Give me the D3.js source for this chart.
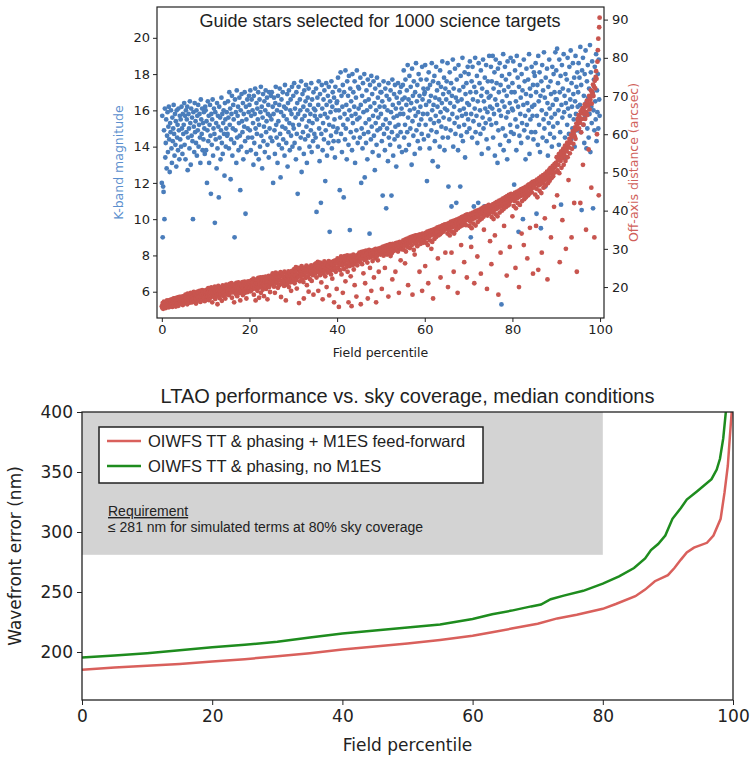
<!DOCTYPE html>
<html>
<head>
<meta charset="utf-8">
<script src="https://cdn.jsdelivr.net/npm/d3@7"></script>
<style>
  body { margin: 0; background: #fff; }
  svg text { font-family: "DejaVu Sans", sans-serif; fill: #222; }
</style>
</head>
<body>
<svg id="chart" width="755" height="757"></svg>
<script>
// ---- top panel: one guide star per science target, sorted by field percentile ----
// K-band magnitude of guide star, in tenths of a magnitude (rows = 5 percentiles)
const kMagTenths = [
  120,157,90,118,115,149,100,161,134,142,155,128,146,159,137,151,162,144,126,153,148,160,139,131,156,143,150,163,147,135,158,141,154,129,160,145,152,138,161,149,133,157,144,155,140,162,150,136,158,147,
  152,164,141,157,133,160,148,155,162,127,145,158,150,139,165,153,130,161,146,156,143,100,159,151,137,164,148,154,142,160,135,157,149,163,140,152,158,145,131,166,155,147,161,138,153,144,159,150,136,162,
  160,138,154,120,149,165,143,157,131,152,163,146,114,158,141,155,166,135,150,161,147,98,159,144,153,128,164,139,157,151,112,162,145,156,133,149,167,142,158,136,153,160,147,124,164,155,140,150,159,146,
  147,165,156,139,170,152,161,122,144,158,168,135,150,163,155,142,90,166,149,159,131,171,145,157,162,138,153,167,146,116,160,140,169,154,148,164,133,158,151,170,143,103,162,155,137,166,150,145,159,168,
  163,149,171,138,157,166,145,160,153,130,168,142,158,172,150,136,164,147,161,155,170,133,152,166,140,159,173,146,162,128,156,169,143,151,165,137,160,171,148,154,167,141,158,163,134,170,150,157,145,168,
  155,170,143,162,120,158,167,149,136,164,173,152,145,160,131,168,154,141,163,172,147,123,159,166,139,151,170,144,157,162,135,174,150,161,142,155,169,129,164,148,171,153,138,160,166,146,158,173,140,152,
  168,150,175,142,161,156,133,170,147,164,114,158,173,152,139,166,160,145,176,126,155,169,148,162,136,171,157,144,165,174,151,131,160,167,146,172,154,140,163,158,149,175,137,166,153,143,170,161,147,157,
  160,145,172,104,155,167,140,163,176,150,132,169,157,109,147,174,161,138,153,166,144,171,158,121,149,175,163,135,156,168,142,173,152,93,165,159,146,176,139,162,170,151,143,167,155,134,173,160,148,164,
  165,150,178,143,160,171,116,156,181,147,168,137,162,174,152,112,170,158,144,182,150,163,133,176,155,168,141,179,160,94,172,148,165,157,138,180,153,170,145,162,176,131,158,167,149,182,155,142,173,161,
  172,156,145,178,163,120,150,168,139,175,159,147,180,123,165,153,142,171,160,133,177,148,166,155,92,174,162,144,179,151,169,137,157,176,146,164,127,172,153,160,141,178,149,167,156,135,174,162,150,170,
  158,170,143,165,113,152,176,147,162,138,172,155,106,168,150,160,132,175,145,166,153,141,171,159,113,148,177,163,135,156,169,144,174,151,161,129,167,157,146,175,152,164,140,170,158,148,173,161,137,166,
  174,158,182,145,167,152,177,138,163,171,148,185,156,166,141,179,160,150,173,164,130,183,154,168,146,176,161,136,170,157,186,149,165,174,143,159,180,152,168,139,162,177,155,147,184,166,158,172,144,169,
  170,185,152,163,177,121,158,172,146,181,165,139,174,155,168,149,186,160,132,176,163,153,179,143,167,157,184,148,171,162,129,175,154,166,140,182,159,173,151,164,187,145,169,156,178,138,161,172,150,166,
  176,160,186,145,118,170,155,181,164,149,175,107,168,158,188,140,172,162,153,183,147,167,109,177,156,165,138,185,151,171,160,118,179,146,166,157,189,143,173,161,152,181,134,169,158,175,148,164,184,155,
  180,163,150,187,170,90,158,176,145,184,166,154,107,173,161,189,148,170,157,179,142,165,109,186,152,175,160,147,182,168,136,172,156,188,150,165,107,178,161,153,185,144,170,159,176,139,167,190,155,162,
  168,184,152,176,161,190,145,172,158,181,135,166,188,153,175,163,131,183,149,170,160,186,141,174,157,53,179,165,150,191,138,171,162,184,146,177,156,168,133,187,159,173,143,180,164,152,189,148,170,161,
  175,160,187,147,119,170,182,155,165,138,190,151,178,162,93,173,146,185,158,167,142,180,153,171,100,163,188,149,176,157,133,169,183,152,164,145,177,160,191,136,172,155,168,148,184,162,157,174,144,181,
  163,179,148,186,170,103,157,174,141,190,165,152,181,137,168,95,176,160,185,145,171,155,192,150,167,118,178,158,143,183,164,135,173,153,188,161,147,176,169,156,140,184,163,151,180,145,170,158,192,166,
  182,166,194,153,175,160,141,188,170,148,179,108,163,185,156,172,138,191,159,168,145,180,164,134,177,152,189,161,171,147,184,157,166,193,144,175,162,150,186,169,155,178,140,165,190,158,173,149,181,162,
  170,186,155,178,163,195,148,174,105,182,160,189,152,168,142,180,157,193,164,139,176,150,185,167,145,172,158,196,137,181,162,153,187,170,106,160,177,149,184,165,155,191,143,171,159,180,150,188,166,157
];

// off-axis distance of guide star, in tenths of an arcsec (same ordering)
const offAxisTenths = [
  150,146,158,143,155,162,148,152,160,145,157,151,165,149,154,162,147,158,166,153,150,161,168,156,148,163,159,170,152,166,157,171,149,162,168,155,173,160,151,167,174,158,164,170,156,175,162,168,153,172,
  176,165,158,172,180,168,162,177,155,183,170,174,164,181,159,178,185,167,172,160,184,175,169,187,163,179,182,171,157,186,176,168,188,173,165,183,190,177,161,185,170,180,192,166,184,175,189,171,163,191,
  188,179,170,193,184,175,197,166,189,181,194,172,186,199,178,160,191,183,196,174,188,201,169,192,185,198,177,155,190,203,182,194,171,187,199,180,195,164,190,204,185,176,197,188,202,170,193,206,181,195,
  198,188,205,179,194,208,185,200,191,210,172,197,186,204,193,160,207,189,200,182,211,195,176,203,190,212,198,184,206,165,194,209,188,201,213,179,197,207,191,214,185,203,196,170,210,199,187,215,204,192,
  210,198,215,189,205,218,194,210,201,222,180,207,196,216,165,212,203,220,190,209,224,198,172,214,206,225,185,211,200,219,193,226,208,176,217,203,212,227,195,210,221,168,206,215,229,200,212,187,223,208,
  218,229,207,236,212,224,201,232,185,220,238,210,227,215,233,198,222,235,205,226,217,239,174,213,230,208,236,219,225,203,240,211,228,165,221,234,206,230,216,241,200,224,237,212,229,190,219,242,226,214,
  235,222,247,210,240,229,252,218,196,244,232,226,250,158,237,215,246,228,241,255,220,234,248,213,170,243,230,251,224,238,256,205,245,227,239,188,253,233,221,248,242,257,216,236,250,231,180,246,238,259,
  249,236,262,225,254,243,266,190,250,239,258,231,264,247,212,255,241,168,260,235,252,267,244,228,257,249,200,263,238,256,246,268,178,253,242,261,233,265,250,222,259,245,268,160,254,248,270,240,262,195,
  262,275,250,268,148,258,272,244,265,280,233,270,256,185,276,262,247,281,268,215,259,274,253,283,240,269,160,277,263,255,282,228,271,150,266,279,258,285,246,274,205,280,264,270,175,283,257,276,268,286,
  278,290,266,284,155,275,292,260,286,280,236,293,271,288,210,282,295,274,289,264,170,291,284,297,277,250,294,286,190,279,296,268,291,283,225,298,287,276,300,160,292,281,299,270,294,240,301,288,296,285,
  293,303,195,299,288,306,282,300,294,250,308,288,304,296,285,310,302,175,297,307,291,312,281,305,298,289,220,313,301,309,295,304,311,240,315,300,308,297,316,293,311,185,305,318,302,270,314,309,299,317,
  310,322,298,316,308,262,325,293,319,312,327,305,205,321,315,329,302,323,318,331,309,326,180,320,333,297,324,285,314,335,328,317,330,307,336,322,332,326,240,338,313,334,328,321,190,340,316,337,331,325,
  330,255,342,316,336,328,345,310,210,339,333,347,322,341,335,300,349,318,343,170,337,351,326,345,340,353,331,348,344,356,275,335,350,346,358,338,225,352,342,360,355,349,362,345,357,351,364,290,359,354,
  352,365,340,200,359,348,368,335,362,355,371,290,345,364,357,373,240,340,366,360,375,349,369,362,377,185,354,372,366,380,358,374,370,310,383,361,377,365,385,366,265,380,373,388,362,382,225,390,376,386,
  375,389,360,382,371,392,305,354,386,378,395,366,388,210,380,398,361,391,383,400,280,370,393,386,402,375,397,390,235,405,379,399,394,408,384,350,401,410,389,404,397,412,195,387,406,400,415,392,409,320,
  400,413,260,383,407,395,417,378,410,402,335,420,390,413,405,423,385,416,180,408,426,395,419,290,411,429,400,422,415,432,404,360,425,419,435,409,428,230,438,413,431,422,441,416,305,434,425,444,430,437,
  385,430,443,412,437,425,447,250,406,440,432,450,420,444,435,200,453,415,447,438,456,340,425,450,441,459,310,430,453,445,462,435,456,450,275,466,440,459,469,445,355,463,455,472,448,466,475,235,460,470,
  462,477,442,470,360,457,481,435,474,245,466,485,452,478,469,489,446,290,482,472,493,460,486,478,380,497,466,490,483,502,220,472,495,488,507,478,500,512,330,485,505,495,517,490,510,410,522,500,515,525,
  525,540,440,505,533,520,548,498,265,540,530,555,512,545,375,538,562,520,553,543,570,530,300,562,555,578,540,572,480,565,588,550,583,578,598,330,562,594,608,575,603,420,595,618,588,612,628,240,625,640,
  635,650,615,645,630,420,660,605,655,640,668,520,625,662,652,678,640,672,350,658,688,650,682,675,560,700,665,695,690,715,460,680,710,705,730,700,725,330,740,720,750,765,745,600,790,820,850,440,880,905
];

const topXTicks = [0, 20, 40, 60, 80, 100];
const magTicks = [6, 8, 10, 12, 14, 16, 18, 20];
const distTicks = [20, 30, 40, 50, 60, 70, 80, 90];

// ---- bottom panel: wavefront error vs field percentile ----
const ffPct = [0, 5, 10, 15, 20, 25, 30, 35, 40, 45, 50, 55, 60, 63, 66, 70, 73, 76, 80, 82, 85, 86.5, 88, 90, 91, 92, 92.9, 94, 96, 97, 98.1, 98.7, 99.2, 99.5, 99.8, 100];
const ffWfe = [185.3, 187, 188.5, 190, 192, 194, 196.5, 199, 202, 204.5, 207, 210, 213.5, 216.5, 219.5, 223.5, 228, 231, 236, 240, 246.5, 252, 259, 264, 270, 277, 283, 287, 291, 297, 311, 333, 355, 378, 400, 430];
const noffPct = [0, 5, 10, 15, 20, 25, 30, 35, 40, 45, 50, 55, 60, 63, 66, 69, 70.5, 72, 74, 77, 80, 82.5, 84.8, 86.5, 87.4, 88.5, 89.6, 90.7, 92, 92.9, 94.5, 96.7, 97.5, 98, 98.5, 98.9, 99.3];
const noffWfe = [195.5, 197, 199, 201.5, 204, 206, 208.5, 212, 215.5, 218, 220.5, 223, 227.5, 231.5, 234.5, 238, 239.5, 244, 247, 251, 257, 263, 270, 278, 285, 290, 297, 311, 320, 327, 334, 344, 352, 361, 378, 400, 430];
const wfeTicks = [200, 250, 300, 350, 400];
const pctTicks = [0, 20, 40, 60, 80, 100];
const requirementWfe = 281;
const requirementPct = 80;

const blue = "#4a7dbb", red = "#c8554f";
const svg = d3.select("#chart");

/* ===== top panel ===== */
const T = { left: 157, right: 604, top: 7, bottom: 318 };
const xTop = d3.scaleLinear().domain([-1.1, 100.9]).range([T.left, T.right]);
const yMag = d3.scaleLinear().domain([4.55, 21.7]).range([T.bottom, T.top]);
const yDist = d3.scaleLinear().domain([11.9, 93.3]).range([T.bottom, T.top]);

const topG = svg.append("g");

topG.append("g").selectAll("circle")
  .data(kMagTenths)
  .join("circle")
  .attr("cx", (d, i) => xTop(i * 100 / kMagTenths.length))
  .attr("cy", d => yMag(d / 10))
  .attr("r", 2.4)
  .attr("fill", blue);

topG.append("g").selectAll("circle")
  .data(offAxisTenths)
  .join("circle")
  .attr("cx", (d, i) => xTop(i * 100 / offAxisTenths.length))
  .attr("cy", d => yDist(d / 10))
  .attr("r", 2.4)
  .attr("fill", red);

topG.append("rect")
  .attr("x", T.left).attr("y", T.top)
  .attr("width", T.right - T.left).attr("height", T.bottom - T.top)
  .attr("fill", "none").attr("stroke", "#222").attr("stroke-width", 1.2);

function styleAxis(g, size) {
  g.select(".domain").remove();
  g.selectAll(".tick line").attr("stroke", "#222").attr("stroke-width", 1);
  g.selectAll(".tick text").attr("font-size", size).attr("fill", "#222");
}

topG.append("g")
  .attr("transform", `translate(0,${T.bottom})`)
  .call(d3.axisBottom(xTop).tickValues(topXTicks).tickSize(4).tickPadding(3))
  .call(g => styleAxis(g, 13));

topG.append("g")
  .attr("transform", `translate(${T.left},0)`)
  .call(d3.axisLeft(yMag).tickValues(magTicks).tickSize(4).tickPadding(3))
  .call(g => styleAxis(g, 13));

topG.append("g")
  .attr("transform", `translate(${T.right},0)`)
  .call(d3.axisRight(yDist).tickValues(distTicks).tickSize(4).tickPadding(4))
  .call(g => styleAxis(g, 13));

topG.append("text")
  .attr("x", 380).attr("y", 27)
  .attr("text-anchor", "middle")
  .style("font-family", "'Liberation Sans', Arial, sans-serif")
  .attr("font-size", 18)
  .text("Guide stars selected for 1000 science targets");

topG.append("text")
  .attr("x", (T.left + T.right) / 2).attr("y", 357)
  .attr("text-anchor", "middle").attr("font-size", 12.5)
  .text("Field percentile");

topG.append("text")
  .attr("transform", `translate(123,${(T.top + T.bottom) / 2}) rotate(-90)`)
  .attr("text-anchor", "middle").attr("font-size", 12.5)
  .style("fill", "#5b8fce")
  .text("K-band magnitude");

topG.append("text")
  .attr("transform", `translate(638,${(T.top + T.bottom) / 2}) rotate(-90)`)
  .attr("text-anchor", "middle").attr("font-size", 12.5)
  .style("fill", "#d0605a")
  .text("Off-axis distance (arcsec)");

/* ===== bottom panel ===== */
const B = { left: 82, right: 733, top: 412, bottom: 700 };
const xB = d3.scaleLinear().domain([0, 100]).range([B.left, B.right]);
const yB = d3.scaleLinear().domain([160, 400]).range([B.bottom, B.top]);
const narrow = "'Liberation Sans Narrow', 'Liberation Sans', Arial, sans-serif";

const botG = svg.append("g");

svg.append("defs").append("clipPath").attr("id", "clipB")
  .append("rect")
  .attr("x", B.left).attr("y", B.top)
  .attr("width", B.right - B.left).attr("height", B.bottom - B.top);

// requirement region
botG.append("rect")
  .attr("x", xB(0)).attr("y", yB(400))
  .attr("width", xB(requirementPct) - xB(0))
  .attr("height", yB(requirementWfe) - yB(400))
  .attr("fill", "#d3d3d3");

const line = d3.line().x(d => xB(d[0])).y(d => yB(d[1]));

botG.append("path")
  .datum(d3.zip(noffPct, noffWfe))
  .attr("d", line)
  .attr("fill", "none").attr("stroke", "#1e8c1e").attr("stroke-width", 2.5)
  .attr("clip-path", "url(#clipB)");

botG.append("path")
  .datum(d3.zip(ffPct, ffWfe))
  .attr("d", line)
  .attr("fill", "none").attr("stroke", "#d9605c").attr("stroke-width", 2.5)
  .attr("clip-path", "url(#clipB)");

botG.append("rect")
  .attr("x", B.left).attr("y", B.top)
  .attr("width", B.right - B.left).attr("height", B.bottom - B.top)
  .attr("fill", "none").attr("stroke", "#222").attr("stroke-width", 1.3);

botG.append("g")
  .attr("transform", `translate(0,${B.bottom})`)
  .call(d3.axisBottom(xB).tickValues(pctTicks).tickSize(5).tickPadding(5))
  .call(g => styleAxis(g, 17));

botG.append("g")
  .attr("transform", `translate(${B.left},0)`)
  .call(d3.axisLeft(yB).tickValues(wfeTicks).tickSize(5).tickPadding(4))
  .call(g => styleAxis(g, 17));

// legend
const leg = botG.append("g");
leg.append("rect")
  .attr("x", 99).attr("y", 427).attr("width", 384).attr("height", 56)
  .attr("fill", "#fff").attr("stroke", "#222").attr("stroke-width", 1.5);
const legItems = [
  { label: "OIWFS TT & phasing + M1ES feed-forward", color: "#d9605c" },
  { label: "OIWFS TT & phasing, no M1ES", color: "#1e8c1e" }
];
legItems.forEach((d, i) => {
  const y = 441 + i * 25;
  leg.append("line")
    .attr("x1", 107).attr("x2", 141).attr("y1", y).attr("y2", y)
    .attr("stroke", d.color).attr("stroke-width", 2.5);
  leg.append("text")
    .attr("x", 148).attr("y", y + 5.5)
    .style("font-family", narrow).attr("font-size", 16.5)
    .text(d.label);
});

botG.append("text")
  .attr("x", 108).attr("y", 516)
  .style("font-family", narrow).attr("font-size", 14)
  .attr("text-decoration", "underline")
  .text("Requirement");
botG.append("text")
  .attr("x", 108).attr("y", 532)
  .style("font-family", narrow).attr("font-size", 14)
  .text("≤ 281 nm for simulated terms at 80% sky coverage");

botG.append("text")
  .attr("x", (B.left + B.right) / 2).attr("y", 403)
  .attr("text-anchor", "middle")
  .style("font-family", narrow).attr("font-size", 20)
  .text("LTAO performance vs. sky coverage, median conditions");

botG.append("text")
  .attr("x", (B.left + B.right) / 2).attr("y", 751)
  .attr("text-anchor", "middle").attr("font-size", 17)
  .text("Field percentile");

botG.append("text")
  .attr("transform", `translate(21,${(B.top + B.bottom) / 2}) rotate(-90)`)
  .attr("text-anchor", "middle").attr("font-size", 17)
  .text("Wavefront error (nm)");
</script>
</body>
</html>
